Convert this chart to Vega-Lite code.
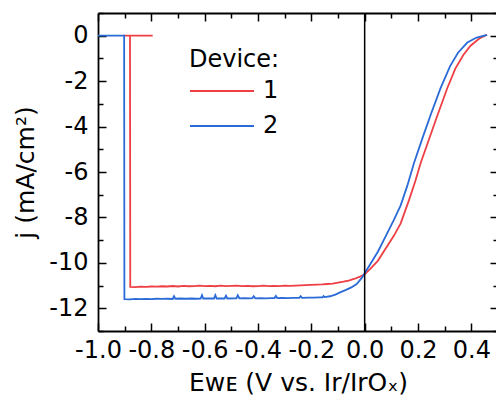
{
  "$schema": "https://vega.github.io/schema/vega-lite/v6.json",
  "width": 400,
  "height": 318,
  "autosize": "none",
  "padding": {"left": 98, "top": 13, "right": 0, "bottom": 69},
  "background": "white",
  "config": {
    "view": {"stroke": null},
    "font": "DejaVu Sans",
    "axis": {
      "grid": false,
      "domainColor": "black",
      "domainWidth": 1.8,
      "tickColor": "black",
      "tickWidth": 1.5,
      "labelColor": "black",
      "titleColor": "black",
      "labelFont": "DejaVu Sans",
      "titleFont": "DejaVu Sans",
      "labelFontSize": 24,
      "titleFontSize": 25,
      "titleFontWeight": "normal"
    }
  },
  "datasets": {
    "iv": [
      {"device": "1", "n": 0, "E": -0.905, "j": 0},
      {"device": "1", "n": 1, "E": -0.795, "j": 0},
      {"device": "1", "n": 2, "E": -0.88, "j": 0},
      {"device": "1", "n": 3, "E": -0.879, "j": -11.06},
      {"device": "1", "n": 4, "E": -0.86, "j": -11.07},
      {"device": "1", "n": 5, "E": -0.84, "j": -11.05},
      {"device": "1", "n": 6, "E": -0.82, "j": -11.06},
      {"device": "1", "n": 7, "E": -0.80, "j": -11.04},
      {"device": "1", "n": 8, "E": -0.78, "j": -11.05},
      {"device": "1", "n": 9, "E": -0.76, "j": -11.03},
      {"device": "1", "n": 10, "E": -0.74, "j": -11.04},
      {"device": "1", "n": 11, "E": -0.72, "j": -11.02},
      {"device": "1", "n": 12, "E": -0.70, "j": -11.04},
      {"device": "1", "n": 13, "E": -0.68, "j": -11.01},
      {"device": "1", "n": 14, "E": -0.66, "j": -11.03},
      {"device": "1", "n": 15, "E": -0.64, "j": -11.02},
      {"device": "1", "n": 16, "E": -0.62, "j": -11.0},
      {"device": "1", "n": 17, "E": -0.60, "j": -11.02},
      {"device": "1", "n": 18, "E": -0.58, "j": -11.01},
      {"device": "1", "n": 19, "E": -0.56, "j": -11.03},
      {"device": "1", "n": 20, "E": -0.54, "j": -11.0},
      {"device": "1", "n": 21, "E": -0.52, "j": -11.02},
      {"device": "1", "n": 22, "E": -0.50, "j": -11.01},
      {"device": "1", "n": 23, "E": -0.48, "j": -11.0},
      {"device": "1", "n": 24, "E": -0.46, "j": -11.02},
      {"device": "1", "n": 25, "E": -0.44, "j": -11.01},
      {"device": "1", "n": 26, "E": -0.42, "j": -11.03},
      {"device": "1", "n": 27, "E": -0.40, "j": -11.02},
      {"device": "1", "n": 28, "E": -0.38, "j": -11.0},
      {"device": "1", "n": 29, "E": -0.36, "j": -11.02},
      {"device": "1", "n": 30, "E": -0.34, "j": -11.01},
      {"device": "1", "n": 31, "E": -0.32, "j": -11.02},
      {"device": "1", "n": 32, "E": -0.30, "j": -11.0},
      {"device": "1", "n": 33, "E": -0.28, "j": -11.01},
      {"device": "1", "n": 34, "E": -0.26, "j": -11.0},
      {"device": "1", "n": 35, "E": -0.24, "j": -10.99},
      {"device": "1", "n": 36, "E": -0.22, "j": -10.98},
      {"device": "1", "n": 37, "E": -0.20, "j": -10.97},
      {"device": "1", "n": 38, "E": -0.18, "j": -10.96},
      {"device": "1", "n": 39, "E": -0.16, "j": -10.95},
      {"device": "1", "n": 40, "E": -0.14, "j": -10.93},
      {"device": "1", "n": 41, "E": -0.12, "j": -10.91},
      {"device": "1", "n": 42, "E": -0.10, "j": -10.87},
      {"device": "1", "n": 43, "E": -0.08, "j": -10.83},
      {"device": "1", "n": 44, "E": -0.06, "j": -10.78},
      {"device": "1", "n": 45, "E": -0.04, "j": -10.71},
      {"device": "1", "n": 46, "E": -0.02, "j": -10.62},
      {"device": "1", "n": 47, "E": 0.0, "j": -10.5},
      {"device": "1", "n": 48, "E": 0.022, "j": -10.25},
      {"device": "1", "n": 49, "E": 0.05, "j": -9.9},
      {"device": "1", "n": 50, "E": 0.08, "j": -9.35},
      {"device": "1", "n": 51, "E": 0.11, "j": -8.8},
      {"device": "1", "n": 52, "E": 0.135, "j": -8.26},
      {"device": "1", "n": 53, "E": 0.166, "j": -7.25},
      {"device": "1", "n": 54, "E": 0.19, "j": -6.4},
      {"device": "1", "n": 55, "E": 0.21, "j": -5.6},
      {"device": "1", "n": 56, "E": 0.24, "j": -4.6},
      {"device": "1", "n": 57, "E": 0.27, "j": -3.6},
      {"device": "1", "n": 58, "E": 0.31, "j": -2.3},
      {"device": "1", "n": 59, "E": 0.34, "j": -1.45},
      {"device": "1", "n": 60, "E": 0.37, "j": -0.85},
      {"device": "1", "n": 61, "E": 0.397, "j": -0.44},
      {"device": "1", "n": 62, "E": 0.43, "j": -0.12},
      {"device": "1", "n": 63, "E": 0.459, "j": 0.04},

      {"device": "2", "n": 0, "E": -1.0, "j": 0},
      {"device": "2", "n": 1, "E": -0.902, "j": 0},
      {"device": "2", "n": 2, "E": -0.901, "j": -11.6},
      {"device": "2", "n": 3, "E": -0.88, "j": -11.61},
      {"device": "2", "n": 4, "E": -0.86, "j": -11.59},
      {"device": "2", "n": 5, "E": -0.84, "j": -11.6},
      {"device": "2", "n": 6, "E": -0.82, "j": -11.59},
      {"device": "2", "n": 7, "E": -0.80, "j": -11.6},
      {"device": "2", "n": 8, "E": -0.78, "j": -11.58},
      {"device": "2", "n": 9, "E": -0.76, "j": -11.59},
      {"device": "2", "n": 10, "E": -0.74, "j": -11.58},
      {"device": "2", "n": 11, "E": -0.72, "j": -11.59},
      {"device": "2", "n": 12, "E": -0.715, "j": -11.47},
      {"device": "2", "n": 13, "E": -0.71, "j": -11.58},
      {"device": "2", "n": 14, "E": -0.69, "j": -11.57},
      {"device": "2", "n": 15, "E": -0.67, "j": -11.58},
      {"device": "2", "n": 16, "E": -0.65, "j": -11.57},
      {"device": "2", "n": 17, "E": -0.63, "j": -11.58},
      {"device": "2", "n": 18, "E": -0.615, "j": -11.57},
      {"device": "2", "n": 19, "E": -0.61, "j": -11.42},
      {"device": "2", "n": 20, "E": -0.605, "j": -11.57},
      {"device": "2", "n": 21, "E": -0.58, "j": -11.56},
      {"device": "2", "n": 22, "E": -0.565, "j": -11.57},
      {"device": "2", "n": 23, "E": -0.56, "j": -11.42},
      {"device": "2", "n": 24, "E": -0.555, "j": -11.57},
      {"device": "2", "n": 25, "E": -0.53, "j": -11.56},
      {"device": "2", "n": 26, "E": -0.525, "j": -11.57},
      {"device": "2", "n": 27, "E": -0.52, "j": -11.45},
      {"device": "2", "n": 28, "E": -0.515, "j": -11.57},
      {"device": "2", "n": 29, "E": -0.49, "j": -11.56},
      {"device": "2", "n": 30, "E": -0.481, "j": -11.56},
      {"device": "2", "n": 31, "E": -0.476, "j": -11.43},
      {"device": "2", "n": 32, "E": -0.47, "j": -11.56},
      {"device": "2", "n": 33, "E": -0.45, "j": -11.55},
      {"device": "2", "n": 34, "E": -0.43, "j": -11.56},
      {"device": "2", "n": 35, "E": -0.421, "j": -11.55},
      {"device": "2", "n": 36, "E": -0.416, "j": -11.47},
      {"device": "2", "n": 37, "E": -0.41, "j": -11.56},
      {"device": "2", "n": 38, "E": -0.39, "j": -11.55},
      {"device": "2", "n": 39, "E": -0.37, "j": -11.56},
      {"device": "2", "n": 40, "E": -0.35, "j": -11.55},
      {"device": "2", "n": 41, "E": -0.338, "j": -11.55},
      {"device": "2", "n": 42, "E": -0.333, "j": -11.46},
      {"device": "2", "n": 43, "E": -0.328, "j": -11.55},
      {"device": "2", "n": 44, "E": -0.31, "j": -11.54},
      {"device": "2", "n": 45, "E": -0.29, "j": -11.55},
      {"device": "2", "n": 46, "E": -0.27, "j": -11.54},
      {"device": "2", "n": 47, "E": -0.245, "j": -11.54},
      {"device": "2", "n": 48, "E": -0.24, "j": -11.47},
      {"device": "2", "n": 49, "E": -0.235, "j": -11.54},
      {"device": "2", "n": 50, "E": -0.21, "j": -11.53},
      {"device": "2", "n": 51, "E": -0.19, "j": -11.53},
      {"device": "2", "n": 52, "E": -0.17, "j": -11.52},
      {"device": "2", "n": 53, "E": -0.158, "j": -11.52},
      {"device": "2", "n": 54, "E": -0.154, "j": -11.46},
      {"device": "2", "n": 55, "E": -0.15, "j": -11.51},
      {"device": "2", "n": 56, "E": -0.13, "j": -11.47},
      {"device": "2", "n": 57, "E": -0.11, "j": -11.4},
      {"device": "2", "n": 58, "E": -0.09, "j": -11.29},
      {"device": "2", "n": 59, "E": -0.07, "j": -11.19},
      {"device": "2", "n": 60, "E": -0.05, "j": -11.08},
      {"device": "2", "n": 61, "E": -0.03, "j": -10.93},
      {"device": "2", "n": 62, "E": -0.01, "j": -10.65},
      {"device": "2", "n": 63, "E": 0.0, "j": -10.46},
      {"device": "2", "n": 64, "E": 0.022, "j": -10.04},
      {"device": "2", "n": 65, "E": 0.05, "j": -9.5},
      {"device": "2", "n": 66, "E": 0.08, "j": -8.8},
      {"device": "2", "n": 67, "E": 0.11, "j": -8.1},
      {"device": "2", "n": 68, "E": 0.135, "j": -7.47},
      {"device": "2", "n": 69, "E": 0.16, "j": -6.6},
      {"device": "2", "n": 70, "E": 0.185, "j": -5.6},
      {"device": "2", "n": 71, "E": 0.22, "j": -4.4},
      {"device": "2", "n": 72, "E": 0.25, "j": -3.4},
      {"device": "2", "n": 73, "E": 0.285, "j": -2.3},
      {"device": "2", "n": 74, "E": 0.32, "j": -1.35},
      {"device": "2", "n": 75, "E": 0.35, "j": -0.75},
      {"device": "2", "n": 76, "E": 0.385, "j": -0.3},
      {"device": "2", "n": 77, "E": 0.42, "j": -0.08},
      {"device": "2", "n": 78, "E": 0.459, "j": 0.04}
    ]
  },
  "layer": [
    {
      "data": {"name": "iv"},
      "mark": {"type": "line", "strokeWidth": 1.8, "clip": true},
      "encoding": {
        "x": {
          "field": "E",
          "type": "quantitative",
          "scale": {"domain": [-1.0, 0.5], "nice": false, "zero": false},
          "axis": {
            "orient": "bottom",
            "values": [-1.0, -0.9, -0.8, -0.7, -0.6, -0.5, -0.4, -0.3, -0.2, -0.1, 0.0, 0.1, 0.2, 0.3, 0.4, 0.5],
            "labelExpr": "abs(round(datum.value*10)) % 2 == 0 ? (datum.value < -0.001 ? '-' : '') + format(abs(datum.value), '.1f') : ''",
            "tickSize": {"condition": {"test": "abs(round(datum.value*10)) % 2 == 0", "value": -8}, "value": -5},
            "labelPadding": 15,
            "labelFlush": false,
            "labelOverlap": false,
            "title": "Eᴡᴇ (V vs. Ir/IrOₓ)",
            "titlePadding": 5
          }
        },
        "y": {
          "field": "j",
          "type": "quantitative",
          "scale": {"domain": [-13, 1], "nice": false, "zero": false},
          "axis": {
            "orient": "left",
            "values": [-13, -12, -11, -10, -9, -8, -7, -6, -5, -4, -3, -2, -1, 0, 1],
            "labelExpr": "abs(datum.value) % 2 == 0 ? (datum.value < 0 ? '-' : '') + format(abs(datum.value), 'd') : ''",
            "tickSize": {"condition": {"test": "abs(datum.value) % 2 == 0", "value": -8}, "value": -5},
            "labelPadding": 18,
            "labelFlush": false,
            "labelOverlap": false,
            "title": "j (mA/cm²)",
            "titleFontSize": 25,
            "titlePadding": 10
          }
        },
        "color": {
          "field": "device",
          "type": "nominal",
          "scale": {"domain": ["1", "2"], "range": ["#ee3f45", "#2a6bd8"]},
          "legend": {
            "orient": "none",
            "legendX": 91,
            "legendY": 35,
            "title": "Device:",
            "titleFontSize": 24,
            "titleFontWeight": "normal",
            "titleColor": "black",
            "titleFont": "DejaVu Sans",
            "labelFont": "DejaVu Sans",
            "labelFontSize": 24,
            "labelColor": "black",
            "symbolType": "stroke",
            "symbolStrokeWidth": 2,
            "symbolSize": 4096,
            "labelOffset": 8,
            "clipHeight": 24,
            "titlePadding": 7,
            "rowPadding": 11
          }
        },
        "order": {"field": "n", "type": "quantitative"}
      }
    },
    {
      "data": {"values": [{"E0": 0}]},
      "mark": {"type": "rule", "color": "black", "strokeWidth": 1.5},
      "encoding": {
        "x": {
          "field": "E0",
          "type": "quantitative",
          "axis": {
            "orient": "top",
            "values": [-1.0, -0.9, -0.8, -0.7, -0.6, -0.5, -0.4, -0.3, -0.2, -0.1, 0.0, 0.1, 0.2, 0.3, 0.4, 0.5],
            "labels": false,
            "title": null,
            "tickSize": {"condition": {"test": "abs(round(datum.value*10)) % 2 == 0", "value": -8}, "value": -5}
          }
        },
        "y": {
          "datum": -13,
          "type": "quantitative",
          "axis": {
            "orient": "right",
            "values": [-13, -12, -11, -10, -9, -8, -7, -6, -5, -4, -3, -2, -1, 0, 1],
            "labels": false,
            "title": null,
            "tickSize": {"condition": {"test": "abs(datum.value) % 2 == 0", "value": -8}, "value": -5}
          }
        },
        "y2": {"datum": 1}
      }
    }
  ],
  "resolve": {"axis": {"x": "independent", "y": "independent"}}
}
